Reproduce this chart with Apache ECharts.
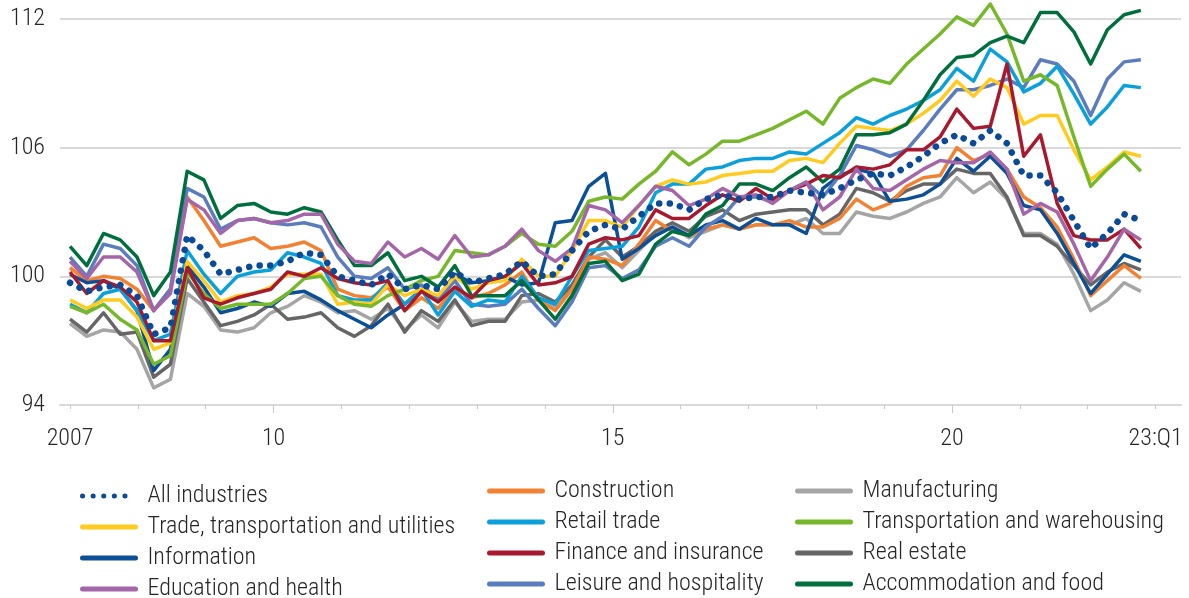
<!DOCTYPE html>
<html>
<head>
<meta charset="utf-8">
<script src="https://cdn.jsdelivr.net/npm/echarts@6/dist/echarts.min.js"></script>
<style>
  html, body { margin: 0; padding: 0; background: #fff; }
  #chart { width: 1189px; height: 598px; }
</style>
</head>
<body>
<div id="chart"></div>
<script>
// quarterly index, 2007:Q1 .. 2023:Q1 (x = quarters since 2007:Q1)
const yearTicks = [0, 4, 8, 12, 16, 20, 24, 28, 32, 36, 40, 44, 48, 52, 56, 60, 64];
const majorTicks = [12, 32, 52];
const labelTicks = [0, 12, 32, 52, 64];
const labelText = ['2007', '10', '15', '20', '23:Q1'];

const allIndustries = [99.7, 99.3, 99.5, 99.6, 99.1, 97.3, 97.6, 101.9, 101.2, 100.1, 100.3, 100.5, 100.5, 100.7, 101.1, 101.0, 100.0, 99.8, 99.6, 100.1,
  99.4, 99.6, 99.4, 100.2, 99.7, 99.9, 100.1, 100.7, 100.0, 100.1, 101.2, 102.1, 102.4, 102.2, 102.8, 103.4, 103.4, 103.1,
  103.6, 103.8, 103.6, 103.7, 103.7, 104.0, 103.9, 103.8, 104.1, 104.5, 104.8, 104.7, 105.1, 105.6, 106.2, 106.6, 106.2, 106.8,
  106.2, 104.7, 104.7, 103.9, 102.6, 101.3, 102.0, 102.9, 102.6];
const trade = [98.9, 98.5, 98.9, 98.9, 98.1, 96.6, 96.9, 100.7, 99.8, 98.8, 99.1, 99.2, 99.5, 100.1, 100.1, 100.1, 98.7, 98.8, 98.7, 99.6,
  99.1, 99.4, 99.1, 100.0, 99.4, 99.7, 99.8, 100.8, 100.0, 100.0, 101.2, 102.6, 102.6, 102.3, 103.3, 104.2, 104.5, 104.3,
  104.4, 104.7, 104.8, 104.9, 104.9, 105.4, 105.5, 105.3, 106.2, 107.0, 106.9, 106.8, 107.1, 107.6, 108.2, 109.1, 108.4, 109.2,
  108.8, 107.1, 107.5, 107.5, 105.9, 104.5, 105.1, 105.8, 105.6];
const information = [100.1, 99.7, 99.8, 99.4, 98.4, 95.6, 96.6, 100.5, 99.5, 98.3, 98.5, 98.8, 98.6, 99.2, 99.3, 98.9, 98.4, 98.0, 97.6, 98.2,
  98.7, 99.4, 99.0, 100.1, 99.7, 99.8, 100.0, 99.6, 99.7, 102.5, 102.6, 104.2, 104.8, 100.8, 101.3, 101.9, 102.3, 101.9,
  102.4, 102.6, 102.2, 102.7, 102.4, 102.4, 102.0, 104.1, 104.7, 105.0, 104.8, 103.5, 103.6, 103.8, 104.3, 105.5, 104.9, 105.6,
  104.8, 103.3, 103.1, 102.0, 100.6, 99.2, 100.1, 101.0, 100.7];
const education = [100.7, 99.9, 100.9, 100.9, 100.2, 98.4, 99.2, 103.6, 103.1, 102.0, 102.6, 102.7, 102.5, 102.6, 102.9, 102.9, 101.5, 100.7, 100.6, 101.6,
  100.9, 101.3, 100.8, 101.9, 100.9, 101.0, 101.4, 102.2, 101.2, 100.7, 101.3, 103.3, 103.1, 102.5, 103.3, 104.2, 104.0, 103.3,
  103.6, 104.1, 103.7, 103.8, 103.4, 104.0, 104.4, 103.1, 103.7, 105.0, 104.1, 104.0, 104.5, 105.0, 105.4, 105.3, 105.3, 105.8,
  105.0, 102.9, 103.4, 103.0, 101.5, 99.8, 100.9, 102.2, 101.7];
const construction = [100.4, 99.8, 100.0, 99.9, 99.4, 98.4, 99.4, 103.7, 102.6, 101.4, 101.6, 101.8, 101.3, 101.4, 101.6, 101.2, 99.4, 99.1, 99.0, 99.5,
  98.4, 99.0, 98.5, 99.4, 99.0, 99.2, 99.6, 100.2, 98.9, 98.4, 99.4, 100.9, 100.8, 100.5, 101.5, 102.6, 102.1, 101.9,
  102.2, 102.4, 102.2, 102.4, 102.4, 102.6, 102.3, 102.3, 102.7, 103.6, 103.1, 103.4, 104.2, 104.6, 104.7, 106.0, 105.4, 105.7,
  105.0, 103.7, 103.2, 102.3, 100.8, 99.1, 99.8, 100.5, 99.9];
const retail = [98.7, 98.3, 99.2, 99.4, 98.4, 97.0, 97.3, 101.2, 100.1, 99.2, 100.0, 100.2, 100.3, 101.1, 100.9, 100.6, 99.1, 98.9, 98.9, 99.7,
  98.7, 99.4, 98.2, 99.3, 98.6, 98.9, 98.8, 100.0, 99.0, 98.7, 100.0, 101.2, 101.3, 101.4, 102.3, 103.9, 104.3, 104.3,
  105.0, 105.1, 105.4, 105.5, 105.5, 105.8, 105.7, 106.2, 106.7, 107.4, 107.1, 107.5, 107.8, 108.2, 108.7, 109.7, 109.1, 110.6,
  110.0, 108.6, 109.0, 109.8, 108.5, 107.1, 107.9, 108.9, 108.8];
const finance = [100.2, 99.2, 99.8, 99.5, 98.8, 97.0, 97.0, 100.4, 99.0, 98.7, 99.0, 99.2, 99.4, 100.2, 100.0, 100.4, 99.9, 99.7, 99.6, 99.8,
  98.4, 99.3, 98.8, 99.5, 99.0, 99.8, 100.0, 100.6, 99.6, 99.7, 100.0, 101.5, 101.8, 101.7, 101.9, 103.1, 102.7, 102.7,
  103.3, 103.8, 103.5, 104.1, 103.6, 104.0, 104.3, 104.7, 104.6, 105.1, 105.0, 105.2, 105.9, 105.9, 106.5, 107.8, 106.9, 107.0,
  109.9, 105.6, 106.6, 103.4, 101.9, 101.7, 101.7, 102.2, 101.3];
const leisure = [100.9, 100.0, 101.5, 101.3, 100.5, 98.4, 99.4, 104.1, 103.7, 102.2, 102.6, 102.7, 102.5, 102.4, 102.5, 102.3, 100.9, 100.0, 99.9, 100.4,
  99.4, 99.6, 98.9, 99.8, 98.7, 98.6, 98.7, 99.4, 98.5, 97.7, 98.8, 100.4, 100.5, 99.9, 100.3, 101.4, 101.8, 101.4,
  102.3, 102.8, 103.7, 103.7, 103.5, 104.0, 104.4, 103.7, 104.7, 106.1, 105.9, 105.6, 105.9, 106.8, 107.8, 108.7, 108.7, 108.9,
  109.2, 108.8, 110.1, 109.9, 109.1, 107.5, 109.2, 110.0, 110.1];
const manufacturing = [97.8, 97.2, 97.5, 97.4, 96.6, 94.8, 95.2, 99.2, 98.6, 97.5, 97.4, 97.6, 98.3, 98.6, 99.1, 98.8, 98.3, 98.4, 98.0, 98.5,
  97.5, 98.2, 97.6, 98.8, 97.9, 98.0, 98.0, 98.8, 98.9, 98.6, 99.4, 100.8, 101.1, 100.4, 101.2, 102.0, 102.3, 101.8,
  102.1, 102.4, 102.2, 102.4, 102.4, 102.4, 102.7, 102.0, 102.0, 103.0, 102.8, 102.7, 103.0, 103.4, 103.7, 104.6, 103.9, 104.4,
  103.6, 102.0, 102.0, 101.5, 100.1, 98.4, 98.9, 99.7, 99.3];
const transportation = [98.6, 98.3, 98.7, 98.0, 97.5, 95.9, 96.3, 100.2, 99.2, 98.5, 98.7, 98.7, 98.7, 99.2, 99.9, 100.0, 99.1, 98.7, 98.6, 99.1,
  99.4, 99.8, 100.0, 101.2, 101.1, 101.0, 101.4, 102.0, 101.5, 101.4, 102.1, 103.5, 103.7, 103.6, 104.3, 104.9, 105.8, 105.2,
  105.7, 106.3, 106.3, 106.6, 106.9, 107.3, 107.7, 107.1, 108.3, 108.8, 109.2, 109.0, 109.9, 110.6, 111.3, 112.1, 111.7, 112.7,
  111.3, 109.1, 109.4, 108.9, 106.5, 104.2, 105.0, 105.7, 104.9];
const realEstate = [98.0, 97.4, 98.3, 97.3, 97.4, 95.3, 95.9, 99.9, 98.8, 97.7, 97.9, 98.2, 98.7, 98.0, 98.1, 98.3, 97.6, 97.2, 97.7, 98.7,
  97.4, 98.4, 97.9, 98.9, 97.7, 97.9, 97.9, 99.1, 99.2, 98.8, 99.6, 100.9, 101.7, 100.9, 101.4, 102.1, 102.5, 102.1,
  102.8, 103.1, 102.6, 102.9, 103.0, 103.1, 103.1, 102.4, 102.9, 104.1, 103.9, 103.5, 104.0, 104.3, 104.3, 105.0, 104.8, 104.8,
  103.7, 101.9, 101.9, 101.4, 100.5, 99.6, 100.2, 100.6, 100.3];
const accommodation = [101.4, 100.5, 102.0, 101.7, 100.9, 99.1, 100.2, 104.9, 104.5, 102.7, 103.3, 103.4, 103.0, 102.9, 103.2, 103.0, 101.7, 100.5, 100.5, 101.1,
  99.8, 100.0, 99.5, 100.5, 99.1, 99.1, 99.1, 99.8, 98.9, 98.0, 99.1, 100.6, 100.7, 99.8, 100.1, 101.5, 102.1, 101.9,
  102.9, 103.3, 104.3, 104.3, 104.0, 104.6, 105.1, 104.4, 105.0, 106.6, 106.6, 106.7, 107.1, 108.2, 109.4, 110.2, 110.3, 110.9,
  111.2, 110.9, 112.3, 112.3, 111.4, 109.9, 111.5, 112.2, 112.4];

// drawing order: first = bottom
const lines = [
  { name: 'Manufacturing', data: manufacturing, color: '#a5a5a5' },
  { name: 'Real estate', data: realEstate, color: '#666666' },
  { name: 'Construction', data: construction, color: '#f28232' },
  { name: 'Information', data: information, color: '#0b4f96' },
  { name: 'Leisure and hospitality', data: leisure, color: '#5b7dbe' },
  { name: 'Retail trade', data: retail, color: '#0aa0dc' },
  { name: 'Trade, transportation and utilities', data: trade, color: '#ffcb1f' },
  { name: 'Transportation and warehousing', data: transportation, color: '#76b82a' },
  { name: 'Accommodation and food', data: accommodation, color: '#006f3d' },
  { name: 'Finance and insurance', data: finance, color: '#a6192e' },
  { name: 'Education and health', data: education, color: '#a466a8' },
  { name: 'All industries', data: allIndustries, color: '#0b4a96', dotted: true },
];

const legendCols = [
  ['All industries', 'Trade, transportation and utilities', 'Information', 'Education and health'],
  ['Construction', 'Retail trade', 'Finance and insurance', 'Leisure and hospitality'],
  ['Manufacturing', 'Transportation and warehousing', 'Real estate', 'Accommodation and food'],
];

const FONT = "'Roboto Condensed', Roboto, sans-serif";
const TEXT = '#262626';
const FS = 24;

const chart = echarts.init(document.getElementById('chart'), null, { renderer: 'canvas' });

const legendPos = [{ left: 80, top: 484 }, { left: 487, top: 479 }, { left: 795, top: 479 }];

// the source draws its year ticks on a slightly wider spacing than its data points
const tickAxis = { type: 'value', min: -0.59, max: 65.5, position: 'bottom', splitLine: { show: false } };

chart.setOption({
  animation: false,
  textStyle: { fontFamily: FONT, fontWeight: 300 },
  grid: { left: 60, right: 8, top: 19, bottom: 193, containLabel: false },
  legend: legendCols.map((col, k) => ({
    data: col,
    orient: 'vertical',
    left: legendPos[k].left,
    top: legendPos[k].top,
    height: 140,
    padding: 0,
    itemWidth: 53,
    itemHeight: 14,
    itemGap: 7,
    selectedMode: false,
    itemStyle: { opacity: 0 },
    lineStyle: { width: 5, cap: 'round' },
    textStyle: { fontSize: FS, lineHeight: 24, color: TEXT, fontFamily: FONT, fontWeight: 300, padding: [0, 0, 0, 7] },
  })),
  xAxis: [
    {
      type: 'value', min: -0.6, max: 66.4,
      axisLine: { show: true, lineStyle: { color: '#d9d9d9', width: 2 } },
      axisTick: { show: false },
      axisLabel: { show: false },
      splitLine: { show: false },
    },
    Object.assign({}, tickAxis, {
      axisLine: { show: false },
      axisTick: { show: true, customValues: yearTicks, length: 4, lineStyle: { color: '#c8c8c8', width: 1 } },
      axisLabel: {
        customValues: labelTicks,
        formatter: v => labelText[labelTicks.indexOf(v)] ?? '',
        fontSize: FS, color: TEXT, fontFamily: FONT, fontWeight: 300, margin: 22,
      },
    }),
    Object.assign({}, tickAxis, {
      axisLine: { show: false },
      axisTick: { show: true, customValues: majorTicks, length: 8, lineStyle: { color: '#c8c8c8', width: 1 } },
      axisLabel: { show: false },
    }),
  ],
  yAxis: {
    type: 'value', min: 94, max: 112, interval: 6,
    axisLine: { show: false }, axisTick: { show: false },
    axisLabel: { fontSize: FS, color: TEXT, fontFamily: FONT, fontWeight: 300, margin: 15 },
    splitLine: { lineStyle: { color: '#d9d9d9', width: 2 } },
  },
  series: lines.map(s => ({
    name: s.name,
    type: 'line',
    xAxisIndex: 0,
    symbol: 'none',
    clip: false,
    color: s.color,
    lineStyle: s.dotted
      ? { width: 6.5, color: s.color, type: [0.1, 10.5], cap: 'round' }
      : { width: 3.5, color: s.color, join: 'round' },
    data: s.data.map((v, i) => [i, v]),
  })),
});
</script>
</body>
</html>
